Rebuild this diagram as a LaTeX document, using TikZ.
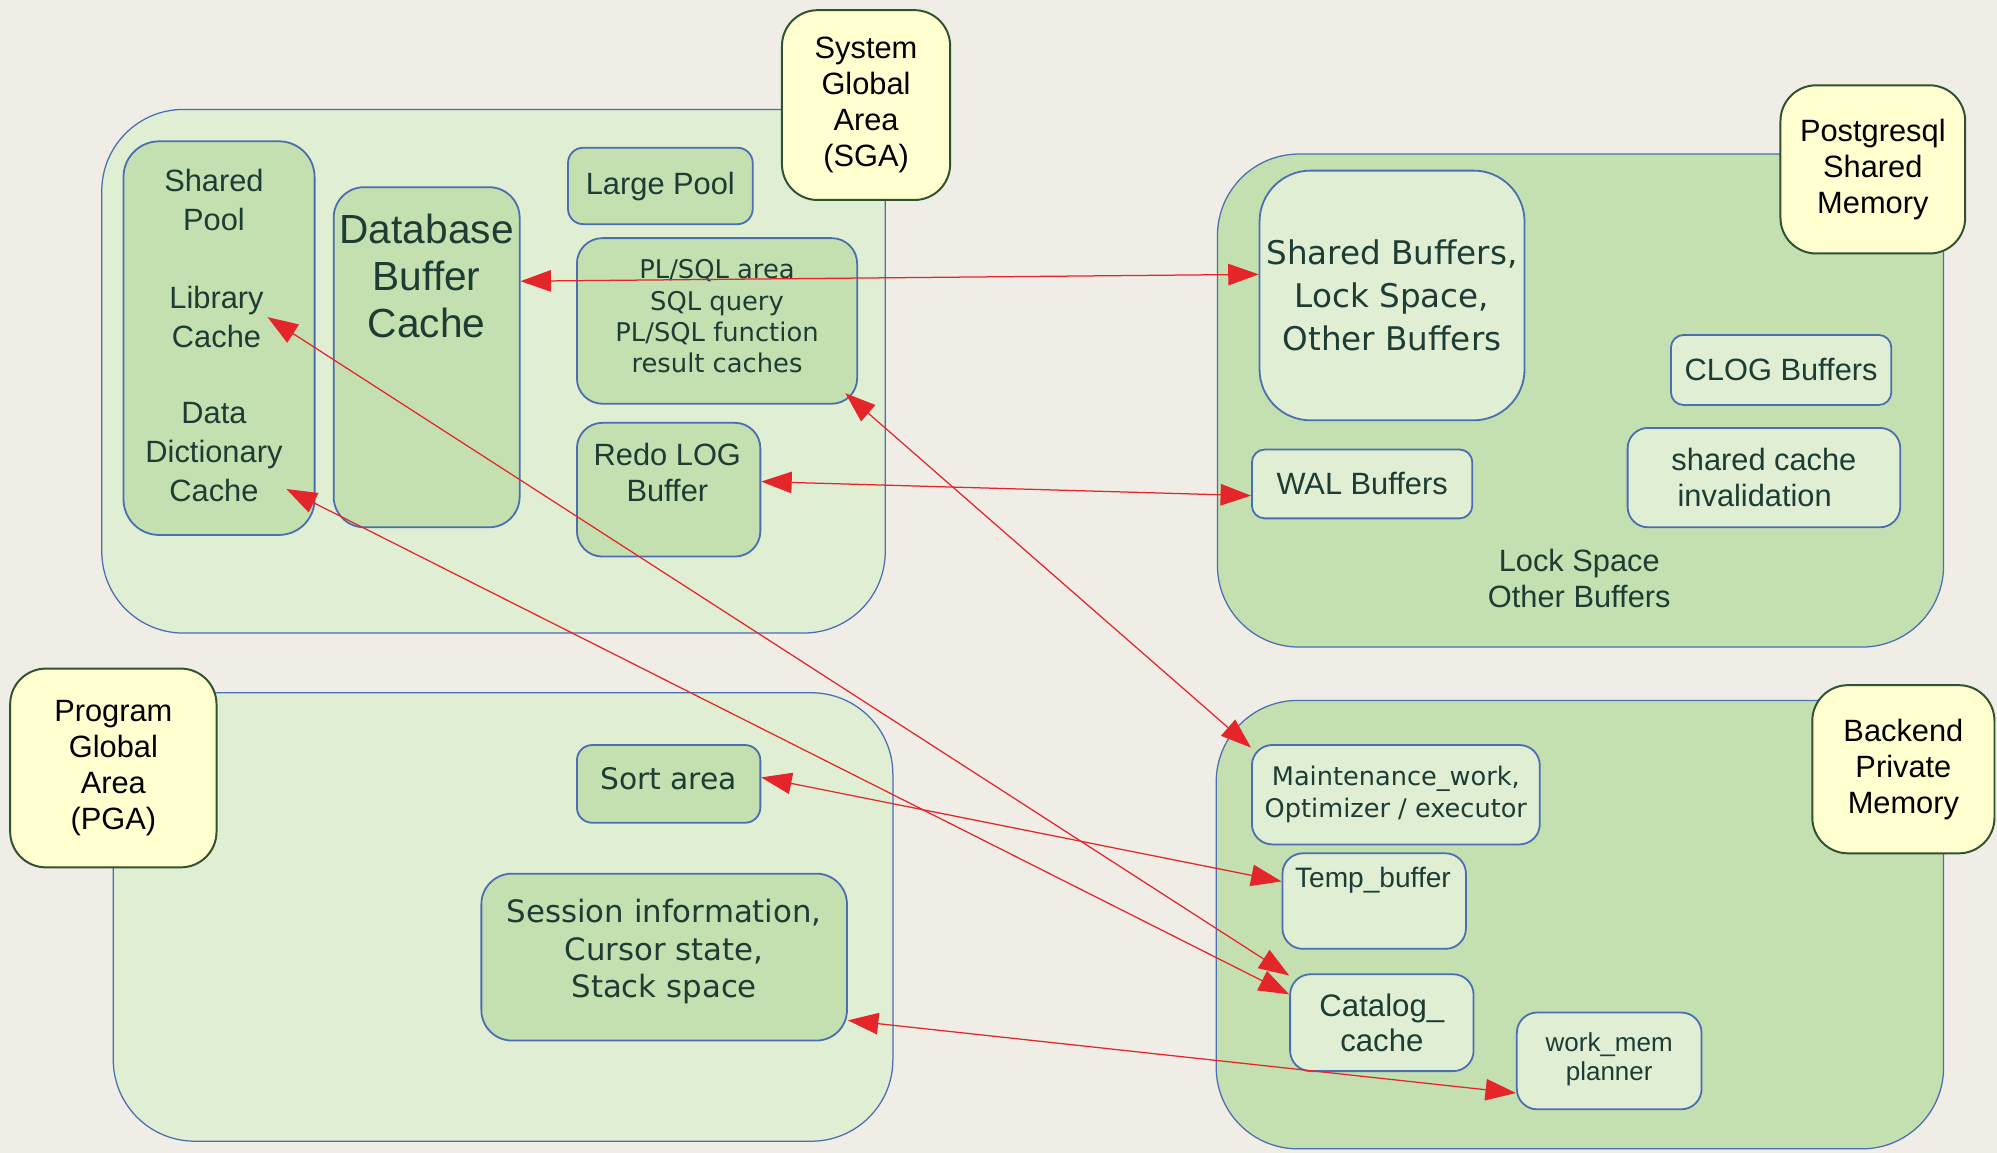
\documentclass[tikz,border=0pt]{standalone}
\usepackage{fontspec}
\setmainfont{Liberation Sans}
\newfontfamily\dejavu{DejaVu Sans}
\usepackage{tikz}
\usetikzlibrary{arrows.meta, positioning}

\definecolor{paper}{HTML}{EFEDE6}
\definecolor{paleleaf}{HTML}{E0EED4}
\definecolor{leaf}{HTML}{C4E0B1}
\definecolor{rim}{HTML}{4A6EB0}
\definecolor{tagyellow}{HTML}{FFFFCF}
\definecolor{tagrim}{HTML}{2F5230}
\definecolor{inktext}{HTML}{1D3C34}
\definecolor{linkred}{HTML}{E4262A}

\begin{document}
\begin{tikzpicture}[
    x=0.025cm, y=-0.025cm,
    area/.style={draw=rim, line width=0.7pt, rounded corners=1.6cm, inner sep=0pt},
    part/.style={draw=rim, line width=1pt, inner sep=0pt, text=inktext, align=center},
    tag/.style={draw=tagrim, fill=tagyellow, line width=1.1pt, rounded corners=0.7cm,
        inner sep=0pt, align=center, font={\fontsize{17.2}{20}\selectfont}},
    lbl/.style={text=inktext, align=center, inner sep=2pt, font={\fontsize{17.2}{20}\selectfont}},
    link/.style={draw=linkred, line width=0.7pt,
        {Triangle[length=17pt,width=12pt]}-{Triangle[length=17pt,width=12pt]}}
]
\fill[paper] (0,0) rectangle (1568,905);
\useasboundingbox (0,0) rectangle (1568,905);

% SGA
\node[area, fill=paleleaf, minimum width=15.375cm, minimum height=10.275cm] (sga) at (387.5,291.5) {};
\node[part, fill=leaf, rounded corners=0.7cm, minimum width=3.75cm, minimum height=7.725cm] (pool) at (172,265.5) {};
\node[lbl, font={\fontsize{17.2}{22}\selectfont}] (pooltxt) at (168,157) {Shared\\Pool};
\node[lbl, font={\fontsize{17.2}{22}\selectfont}] (libc) at (170,249) {Library\\Cache};
\node[lbl, font={\fontsize{17.2}{21.7}\selectfont}] (ddc) at (168,355) {Data\\Dictionary\\Cache};
\node[part, fill=leaf, rounded corners=0.6cm, minimum width=3.65cm, minimum height=6.675cm] (dbc) at (335,280.5) {};
\node[lbl, font={\fontsize{22.7}{26.3}\selectfont}] (dbctxt) at (335,217) {Database\\Buffer\\Cache};
\node[part, fill=leaf, rounded corners=0.3cm, font={\fontsize{17.2}{20}\selectfont},
    minimum width=3.625cm, minimum height=1.5cm, text depth=3pt] (large) at (518.5,146) {Large Pool};
\node[part, fill=leaf, rounded corners=0.5cm, font={\dejavu\fontsize{14.4}{17.4}\selectfont},
    minimum width=5.5cm, minimum height=3.25cm, text depth=5.5pt] (plsql) at (563,252)
    {PL/SQL area\\SQL query\\PL/SQL function\\result caches};
\node[part, fill=leaf, rounded corners=0.5cm, minimum width=3.6cm, minimum height=2.625cm] (redo) at (525,384.5) {};
\node[lbl, font={\fontsize{17.2}{20.6}\selectfont}] (redotxt) at (524,371) {Redo LOG\\Buffer};
\node[tag, minimum width=3.3cm, minimum height=3.725cm] (sgatag) at (680,82.5) {System\\Global\\Area\\(SGA)};

% Postgresql shared memory
\node[area, fill=leaf, minimum width=14.25cm, minimum height=9.675cm] (pgshm) at (1241,314.5) {};
\node[part, fill=paleleaf, rounded corners=1cm, font={\dejavu\fontsize{18.2}{24.2}\selectfont},
    minimum width=5.2cm, minimum height=4.9cm] (shbuf) at (1093,232) {Shared Buffers,\\Lock Space,\\Other Buffers};
\node[part, fill=paleleaf, rounded corners=0.25cm, font={\fontsize{17.2}{20}\selectfont},
    minimum width=4.325cm, minimum height=1.375cm] (clog) at (1398.5,290.5) {CLOG Buffers};
\node[part, fill=paleleaf, rounded corners=0.4cm, font={\fontsize{17.2}{20}\selectfont},
    minimum width=5.35cm, minimum height=1.95cm] (sinval) at (1385,375)
    {shared cache\\\hspace*{0.6em}invalidation\hspace*{1.2em}};
\node[part, fill=paleleaf, rounded corners=0.25cm, font={\fontsize{17.2}{20}\selectfont},
    minimum width=4.325cm, minimum height=1.35cm] (wal) at (1069.5,380) {WAL Buffers};
\node[lbl] (lockspc) at (1240,454) {Lock Space\\Other Buffers};
\node[tag, minimum width=3.625cm, minimum height=3.3cm] (pgtag) at (1470.5,133) {Postgresql\\Shared\\Memory};

% PGA
\node[area, fill=paleleaf, minimum width=15.3cm, minimum height=8.8cm] (pga) at (395,720) {};
\node[part, fill=leaf, rounded corners=0.3cm, font={\dejavu\fontsize{16.6}{20}\selectfont},
    minimum width=3.6cm, minimum height=1.525cm, text depth=6pt] (sort) at (525,615.5) {Sort area};
\node[part, fill=leaf, rounded corners=0.6cm, font={\dejavu\fontsize{17.2}{21}\selectfont},
    minimum width=7.175cm, minimum height=3.275cm, text depth=9.5pt] (session) at (521.5,751.5)
    {Session information,\\Cursor state,\\Stack space};
\node[tag, minimum width=4.05cm, minimum height=3.9cm] (pgatag) at (89,603) {Program\\Global\\Area\\(PGA)};

% Backend private memory
\node[area, fill=leaf, minimum width=14.275cm, minimum height=8.8cm] (backend) at (1240.5,726) {};
\node[part, fill=paleleaf, rounded corners=0.4cm, font={\dejavu\fontsize{14.3}{17.8}\selectfont},
    minimum width=5.65cm, minimum height=1.95cm] (maint) at (1096,624) {Maintenance\_work,\\Optimizer / executor};
\node[part, fill=paleleaf, rounded corners=0.4cm, minimum width=3.6cm, minimum height=1.875cm] (temp) at (1079,707.5) {};
\node[lbl, font={\fontsize{15.7}{19}\selectfont}] (temptxt) at (1078,691) {Temp\_buffer};
\node[part, fill=paleleaf, rounded corners=0.4cm, font={\fontsize{17.4}{19.2}\selectfont},
    minimum width=3.6cm, minimum height=1.9cm] (catalog) at (1085,803) {Catalog\_\\cache};
\node[part, fill=paleleaf, rounded corners=0.4cm, font={\fontsize{14.5}{16.4}\selectfont},
    minimum width=3.625cm, minimum height=1.9cm, text depth=4.5pt] (workmem) at (1263.5,833) {work\_mem\\planner};
\node[tag, minimum width=3.575cm, minimum height=3.3cm] (betag) at (1494.5,604) {Backend\\Private\\Memory};

% correspondences
\draw[link] (dbc.39.6) -- (shbuf.171);
\draw[link] (redo.5) -- (wal.186);
\draw[link] ([shift={(-10,-9)}]plsql.south east) -- (maint.162);
\draw[link] (libc.east) -- (catalog.153);
\draw[link] (ddc.333) -- (catalog.163);
\draw[link] (sort.4) -- (temp.168);
\draw[link] (session.341) -- (workmem.199);
\end{tikzpicture}
\end{document}
